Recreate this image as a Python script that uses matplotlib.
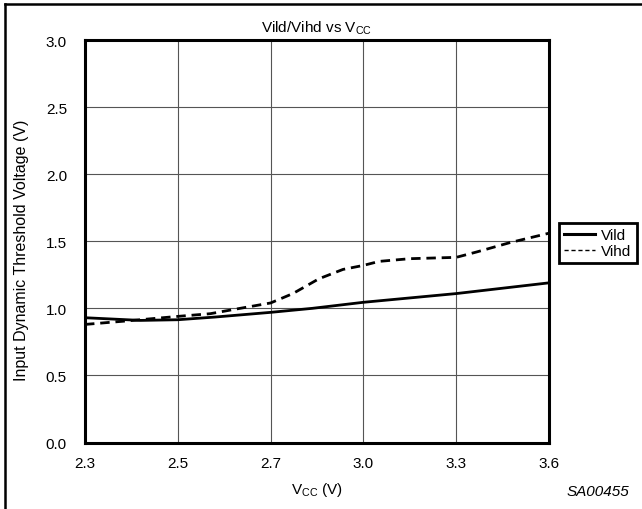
import matplotlib
matplotlib.use('Agg')
import matplotlib.pyplot as plt
from matplotlib.lines import Line2D

plt.rcParams['font.family'] = ['Liberation Sans', 'DejaVu Sans']
plt.rcParams['mathtext.default'] = 'regular'

# x axis is categorical: evenly spaced supply voltages
vcc_labels = ['2.3', '2.5', '2.7', '3.0', '3.3', '3.6']

# curves, x in category-position units
vild_x = [0, 0.6, 1, 1.4, 2, 2.45, 3, 4, 5]
vild_y = [0.93, 0.91, 0.915, 0.935, 0.97, 1.0, 1.045, 1.11, 1.19]

vihd_x = [0, 0.43, 1, 1.35, 1.59, 2, 2.24, 2.52, 2.78, 3, 3.17, 3.5, 4, 4.22, 4.58, 5]
vihd_y = [0.88, 0.905, 0.94, 0.96, 0.99, 1.04, 1.11, 1.22, 1.29, 1.32, 1.35,
          1.37, 1.38, 1.42, 1.49, 1.56]

y_ticks = [0.0, 0.5, 1.0, 1.5, 2.0, 2.5, 3.0]

W, H = 642, 510
fig = plt.figure(figsize=(W / 100, H / 100), dpi=100)
ax = fig.add_axes([85 / W, 1 - 443.5 / H, (549 - 85) / W, (443.5 - 41) / H])

ax.plot(vild_x, vild_y, color='black', lw=2.0, solid_capstyle='butt')
ax.plot(vihd_x, vihd_y, color='black', lw=2.0, ls=(0, (3.4, 2.1)))

ax.set_xlim(0, len(vcc_labels) - 1)
ax.set_ylim(0, 3.0)
ax.set_xticks(range(len(vcc_labels)))
ax.set_xticklabels(vcc_labels)
ax.set_yticks(y_ticks)
ax.set_yticklabels(['%.1f' % v for v in y_ticks])
ax.tick_params(length=0, labelsize=11)
ax.tick_params(axis='y', pad=13)
ax.tick_params(axis='x', pad=10)
ax.grid(True, color='#555555', lw=0.8)
for s in ax.spines.values():
    s.set_linewidth(2.2)

fig.text(317 / W, 1 - 28 / H, 'Vild/Vihd vs V$_{CC}$', ha='center', va='center', fontsize=11)
fig.text(317 / W, 1 - 490 / H, 'V$_{CC}$ (V)', ha='center', va='center', fontsize=11)
fig.text(22 / W, 1 - 250 / H, 'Input Dynamic Threshold Voltage (V)', rotation=90,
         ha='center', va='center', fontsize=11.5)
fig.text(629 / W, 1 - 492 / H, 'SA00455', ha='right', va='center', fontsize=11,
         style='italic')

handles = [Line2D([], [], color='black', lw=2.2),
           Line2D([], [], color='black', lw=1.0, ls=(0, (3, 2)))]
leg = ax.legend(handles, ['Vild', 'Vihd'], loc='upper left',
                bbox_to_anchor=(559 / W, 1 - 224 / H), bbox_transform=fig.transFigure,
                borderaxespad=0, fancybox=False, edgecolor='black', framealpha=1,
                fontsize=11, handlelength=2.0, handletextpad=0.4, borderpad=0.35,
                labelspacing=0.1)
leg.get_frame().set_linewidth(2.0)

# outer frame of the figure (left and top edges visible)
fig.add_artist(Line2D([5 / W, 5 / W], [0, 1 - 5 / H], color='black', lw=1.8,
                      transform=fig.transFigure))
fig.add_artist(Line2D([5 / W, 1], [1 - 5 / H, 1 - 5 / H], color='black', lw=1.8,
                      transform=fig.transFigure))

fig.savefig('out.png', dpi=100)
